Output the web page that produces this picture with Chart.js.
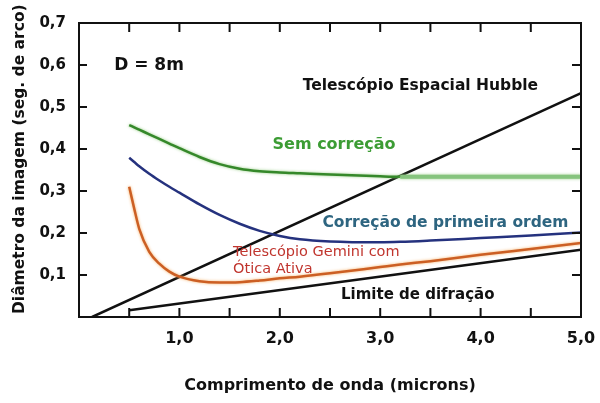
<!DOCTYPE html>
<html>
<head>
<meta charset="utf-8">
<script src="https://cdn.jsdelivr.net/npm/chart.js@4.4.1/dist/chart.umd.min.js"></script>
<style>
  html, body { margin: 0; padding: 0; background: #fff; }
  #wrap { width: 600px; height: 403px; }
</style>
</head>
<body>
<div id="wrap"><canvas id="psfChart"></canvas></div>
<script>
// wavelength samples (microns) for the three seeing curves
const lambda = [0.5, 0.55, 0.6, 0.7, 0.8, 0.9, 1.0, 1.2, 1.4, 1.6, 1.8, 2.0, 2.2, 2.5, 3.0, 3.2, 3.5, 4.0, 4.5, 5.0];
const semCorrecao = [0.457, 0.4515, 0.446, 0.435, 0.424, 0.413, 0.402, 0.381, 0.364, 0.353, 0.347, 0.344, 0.342, 0.339, 0.335, 0.334, 0.334, 0.334, 0.334, 0.334];
const primeiraOrdem = [0.379, 0.369, 0.359, 0.341, 0.325, 0.310, 0.296, 0.268, 0.243, 0.222, 0.205, 0.193, 0.185, 0.180, 0.178, 0.179, 0.182, 0.188, 0.194, 0.201];
const gemini = [0.310, 0.258, 0.210, 0.155, 0.127, 0.108, 0.096, 0.085, 0.082, 0.083, 0.087, 0.092, 0.096, 0.104, 0.119, 0.125, 0.133, 0.148, 0.162, 0.176];
// straight lines: Hubble and diffraction limit
const hubbleX = [0.13, 5.0];
const hubbleY = [0.0, 0.533];
const difracaoX = [0.5, 5.0];
const difracaoY = [0.016, 0.160];
// axis ticks
const xLabelTicks = [1, 2, 3, 4, 5];
const xMinorTicks = [0.5, 1.0, 1.5, 2.0, 2.5, 3.0, 3.5, 4.0, 4.5];
const yMinorTicks = [0.1, 0.2, 0.3, 0.4, 0.5, 0.6];

const pts = (xs, ys) => xs.map((x, i) => ({ x: x, y: ys[i] }));
const fmt = v => v.toFixed(1).replace('.', ',');

// text notes placed in data coordinates
const notes = [
  { text: 'D = 8m', x: 0.35, y: 0.598, color: '#111', font: 'bold 17px "DejaVu Sans"', align: 'left' },
  { text: 'Telescópio Espacial Hubble', x: 3.4, y: 0.55, color: '#111', font: 'bold 15.5px "DejaVu Sans"', align: 'center' },
  { text: 'Sem correção', x: 2.54, y: 0.41, color: '#3c9c34', font: 'bold 16px "DejaVu Sans"', align: 'center' },
  { text: 'Correção de primeira ordem', x: 3.65, y: 0.224, color: '#2e6580', font: 'bold 15.5px "DejaVu Sans"', align: 'center' },
  { text: 'Telescópio Gemini com', x: 1.535, y: 0.155, color: '#c0352e', font: '14.5px "DejaVu Sans"', align: 'left' },
  { text: 'Ótica Ativa', x: 1.535, y: 0.114, color: '#c0352e', font: '14.5px "DejaVu Sans"', align: 'left' },
  { text: 'Limite de difração', x: 2.61, y: 0.052, color: '#111', font: 'bold 15px "DejaVu Sans"', align: 'left' }
];

// soft glow colours for the thick curves
const glow = { 0: 'rgba(140,200,120,0.9)', 2: 'rgba(245,175,100,0.95)' };

// frame, inward tick marks and text notes
const framePlugin = {
  id: 'frame',
  beforeDatasetDraw(chart, args) {
    const g = glow[args.index];
    if (!g) return;
    chart.ctx.save();
    chart.ctx.shadowColor = g;
    chart.ctx.shadowBlur = 3;
  },
  afterDatasetDraw(chart, args) {
    if (glow[args.index]) chart.ctx.restore();
  },
  afterDatasetsDraw(chart) {
    const { ctx, chartArea: a, scales: { x, y } } = chart;
    ctx.save();
    ctx.strokeStyle = '#111';
    ctx.lineWidth = 2;
    ctx.beginPath();
    xMinorTicks.forEach(v => {
      const px = x.getPixelForValue(v);
      ctx.moveTo(px, a.top); ctx.lineTo(px, a.top + 9);
      ctx.moveTo(px, a.bottom); ctx.lineTo(px, a.bottom - 9);
    });
    yMinorTicks.forEach(v => {
      const py = y.getPixelForValue(v);
      ctx.moveTo(a.left, py); ctx.lineTo(a.left + 8, py);
      ctx.moveTo(a.right, py); ctx.lineTo(a.right - 9, py);
    });
    ctx.stroke();
    ctx.strokeRect(a.left, a.top, a.right - a.left, a.bottom - a.top);

    ctx.textBaseline = 'middle';
    notes.forEach(n => {
      ctx.font = n.font;
      ctx.fillStyle = n.color;
      ctx.textAlign = n.align;
      ctx.fillText(n.text, x.getPixelForValue(n.x), y.getPixelForValue(n.y));
    });
    ctx.restore();
  }
};

Chart.defaults.font.family = '"DejaVu Sans"';
Chart.defaults.color = '#111';

new Chart(document.getElementById('psfChart'), {
  type: 'line',
  data: {
    datasets: [
      {
        label: 'Sem correção', data: pts(lambda, semCorrecao),
        borderColor: '#35882a', borderWidth: 2.5,
        segment: { borderColor: c => c.p0.parsed.x >= 3.2 ? '#86c47e' : undefined,
                   borderWidth: c => c.p0.parsed.x >= 3.2 ? 4 : undefined }
      },
      {
        label: 'Correção de primeira ordem', data: pts(lambda, primeiraOrdem),
        borderColor: '#25327e', borderWidth: 2.5
      },
      {
        label: 'Telescópio Gemini com Ótica Ativa', data: pts(lambda, gemini),
        borderColor: '#cc5f24', borderWidth: 2.5
      },
      {
        label: 'Telescópio Espacial Hubble', data: pts(hubbleX, hubbleY),
        borderColor: '#111', borderWidth: 2.5
      },
      {
        label: 'Limite de difração', data: pts(difracaoX, difracaoY),
        borderColor: '#111', borderWidth: 2.5
      }
    ]
  },
  options: {
    responsive: true, maintainAspectRatio: false, animation: false,
    layout: { padding: { top: 23, right: 19, left: 0, bottom: 0 } },
    elements: { point: { radius: 0 }, line: { cubicInterpolationMode: 'monotone', fill: false } },
    plugins: { legend: { display: false }, tooltip: { enabled: false } },
    scales: {
      x: {
        type: 'linear', min: 0, max: 5,
        afterFit: s => { s.height = 86; s.paddingLeft = 0; s.paddingRight = 0; },
        afterBuildTicks: s => { s.ticks = xLabelTicks.map(v => ({ value: v })); },
        ticks: { callback: fmt, padding: 12, maxRotation: 0, font: { size: 16, weight: 'bold' } },
        grid: { display: false, drawTicks: false },
        border: { display: false },
        title: { display: true, text: 'Comprimento de onda (microns)', padding: { top: 0, bottom: 8 },
                 font: { size: 16, weight: 'bold' } }
      },
      y: {
        min: 0, max: 0.7,
        afterFit: s => { s.width = 79; },
        ticks: { stepSize: 0.1, padding: 13, callback: v => v === 0 ? '' : fmt(v), font: { size: 15, weight: 'bold' } },
        grid: { display: false, drawTicks: false },
        border: { display: false },
        title: { display: true, text: '    Diâmetro da imagem (seg. de arco)', padding: { top: 11, bottom: 0 },
                 font: { size: 15.5, weight: 'bold' } }
      }
    }
  },
  plugins: [framePlugin]
});
</script>
</body>
</html>
